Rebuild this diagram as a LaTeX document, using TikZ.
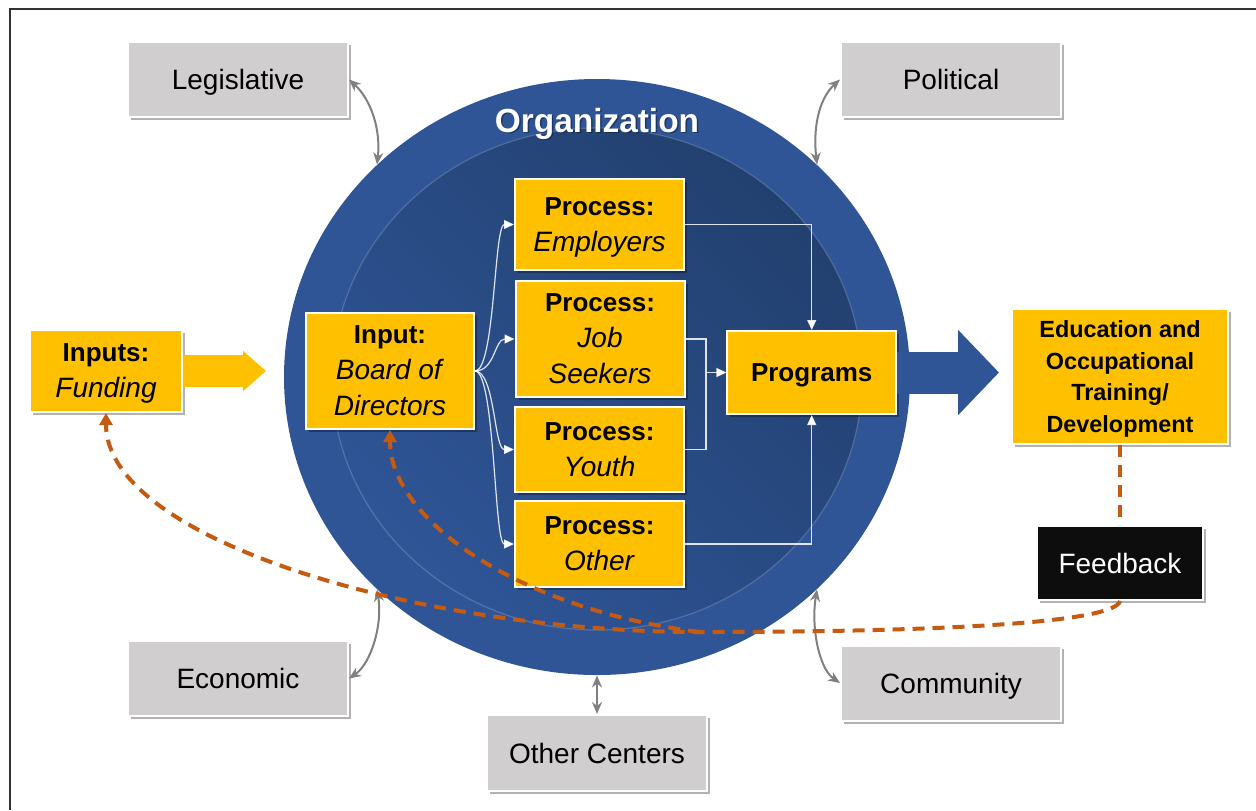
\documentclass[tikz,border=0pt]{standalone}
\usepackage{fontspec}
\setmainfont{Liberation Sans}
\usetikzlibrary{arrows.meta,shapes.geometric,shadows}
\definecolor{orgblue}{HTML}{2F5597}
\definecolor{orgdark}{HTML}{22406F}
\definecolor{gold}{HTML}{FFC000}
\definecolor{boxgray}{HTML}{D0CECE}
\definecolor{fbrust}{HTML}{C55A11}
\definecolor{linkgray}{HTML}{808080}
\definecolor{framegray}{HTML}{333333}
\definecolor{fbblack}{HTML}{0D0D0D}
\newcommand\regfont{\fontsize{14}{18}\selectfont}
\newcommand\boldfont{\fontsize{13}{18}\selectfont\bfseries}
\newcommand\edufont{\fontsize{11.7}{15.75}\selectfont\bfseries}
\begin{document}
\begin{tikzpicture}[x=0.5pt,y=-0.5pt,
  softshadow/.style={drop shadow={shadow xshift=1.5pt,shadow yshift=-1.5pt,opacity=0.3,fill=black}},
  ybox/.style={draw=white,line width=1pt,fill=gold,inner sep=0pt,text depth=0pt,align=center,text=black,font=\regfont,softshadow},
  gbox/.style={draw=white,line width=1pt,fill=boxgray,inner sep=0pt,text depth=0pt,align=center,text=black,font=\regfont,minimum width=110pt,minimum height=37.5pt,softshadow},
  flow/.style={draw=white,draw opacity=0.85,line width=0.6pt},
  flowarrow/.style={flow,-{Triangle[length=5pt,width=4.5pt]}},
  envlink/.style={draw=linkgray,line width=1pt,{Stealth[length=6pt,width=5pt]}-{Stealth[length=6pt,width=5pt]}},
  fbline/.style={draw=fbrust,line width=2pt,dash pattern=on 6pt off 4pt},
  fbarrow/.style={fbline,-{Triangle[length=6pt,width=6.5pt]}}
]
\useasboundingbox (0,0) rectangle (1256,810);
% frame
\draw[framegray,line width=1pt] (10,810) -- (10,9) -- (1256,9);

% organization
\node[ellipse,fill=orgblue,inner sep=0pt,minimum width=313pt,minimum height=298pt] (org) at (597,377) {};
\node[ellipse,draw=white,draw opacity=0.18,line width=0.6pt,inner sep=0pt,minimum width=265pt,minimum height=251pt,
      top color=orgdark,bottom color=orgblue,shading angle=-45] (orgin) at (597,379) {};
\node[font=\fontsize{16.7}{20}\selectfont\bfseries,text=black,opacity=0.35,anchor=base] (orgshadow) at (598.5,133.5) {Organization};
\node[font=\fontsize{16.7}{20}\selectfont\bfseries,text=white,anchor=base] (orgtitle) at (597,132) {Organization};

% environment boxes
\node[gbox] (leg) at (238,79.5) {Legislative};
\node[gbox] (pol) at (951,79.5) {Political};
\node[gbox] (eco) at (238,678.5) {Economic};
\node[gbox] (com) at (951,683) {Community};
\node[gbox,minimum height=38pt] (ctr) at (597,753) {Other Centers};

% yellow boxes
\node[ybox,minimum width=76pt,minimum height=41pt] (inp) at (106,371) {{\boldfont Inputs:}\\\textit{Funding}};
\node[ybox,minimum width=84pt,minimum height=58pt] (brd) at (390,371) {{\boldfont Input:}\\\textit{Board of}\\\textit{Directors}};
\node[ybox,minimum width=84.5pt,minimum height=45.5pt] (emp) at (599.5,224.5) {{\boldfont Process:}\\\textit{Employers}};
\node[ybox,minimum width=84.5pt,minimum height=58pt] (job) at (600,339) {{\boldfont Process:}\\\textit{Job}\\\textit{Seekers}};
\node[ybox,minimum width=84.5pt,minimum height=42.5pt] (yth) at (599.5,449.5) {{\boldfont Process:}\\\textit{Youth}};
\node[ybox,minimum width=84.5pt,minimum height=43pt] (oth) at (599.5,544) {{\boldfont Process:}\\\textit{Other}};
\node[ybox,minimum width=84.25pt,minimum height=41.5pt,font=\boldfont] (prg) at (811.7,372.5) {Programs};
\node[ybox,minimum width=108pt,minimum height=67.5pt,font=\edufont] (edu) at (1120,376.5) {Education and\\Occupational\\Training/\\Development};
\node[draw=white,line width=1pt,fill=fbblack,text=white,font=\regfont,inner sep=0pt,text depth=0pt,minimum width=83pt,minimum height=37pt,softshadow] (fb) at (1120,563) {Feedback};

% block arrows
\draw[gold,line width=16pt,shorten >=19.5pt,-{Triangle[length=11.5pt,width=19.5pt]}] (inp.east) -- (brd.west);
\draw[orgblue,line width=21pt,shorten >=6pt,-{Triangle[length=20.5pt,width=41.5pt]}] (prg.east) -- (prg.east -| edu.west);

% board to processes
\draw[flowarrow] (brd.east) .. controls +(20,0) and +(-20,0) .. (emp.west);
\draw[flowarrow] (brd.east) .. controls +(20,0) and +(-20,0) .. (job.west);
\draw[flowarrow] (brd.east) .. controls +(20,0) and +(-20,0) .. (yth.west);
\draw[flowarrow] (brd.east) .. controls +(20,0) and +(-20,0) .. (oth.west);

% processes to programs
\coordinate (jn) at (706,372.5);
\draw[flowarrow] (emp.east) -| (prg.north);
\draw[flowarrow] (oth.east) -| (prg.south);
\draw[flow] (job.east) -| (jn);
\draw[flow] (yth.east) -| (jn);
\draw[flowarrow] (jn) -- (prg.west);

% environment links
\draw[envlink] (leg.east) .. controls +(22,20) and +(4,-35) .. (org.136);
\draw[envlink] (pol.west) .. controls +(-22,20) and +(-4,-35) .. (org.44);
\draw[envlink] (eco.east) .. controls +(22,-15) and +(6,35) .. (org.224);
\draw[envlink] (com.west) .. controls +(-22,-15) and +(-6,35) .. (org.316);
\draw[envlink] (org.south) -- (ctr.north);

% feedback loop
\coordinate (merge) at (700,632);
\draw[fbline] (edu.south) -- (fb.north);
\draw[fbarrow] (fb.south) .. controls (1115,622) and (950,632) .. (merge) .. controls (420,632) and (106,540) .. (inp.south);
\draw[fbarrow] (merge) .. controls (520,610) and (390,520) .. (brd.south);
\end{tikzpicture}
\end{document}
